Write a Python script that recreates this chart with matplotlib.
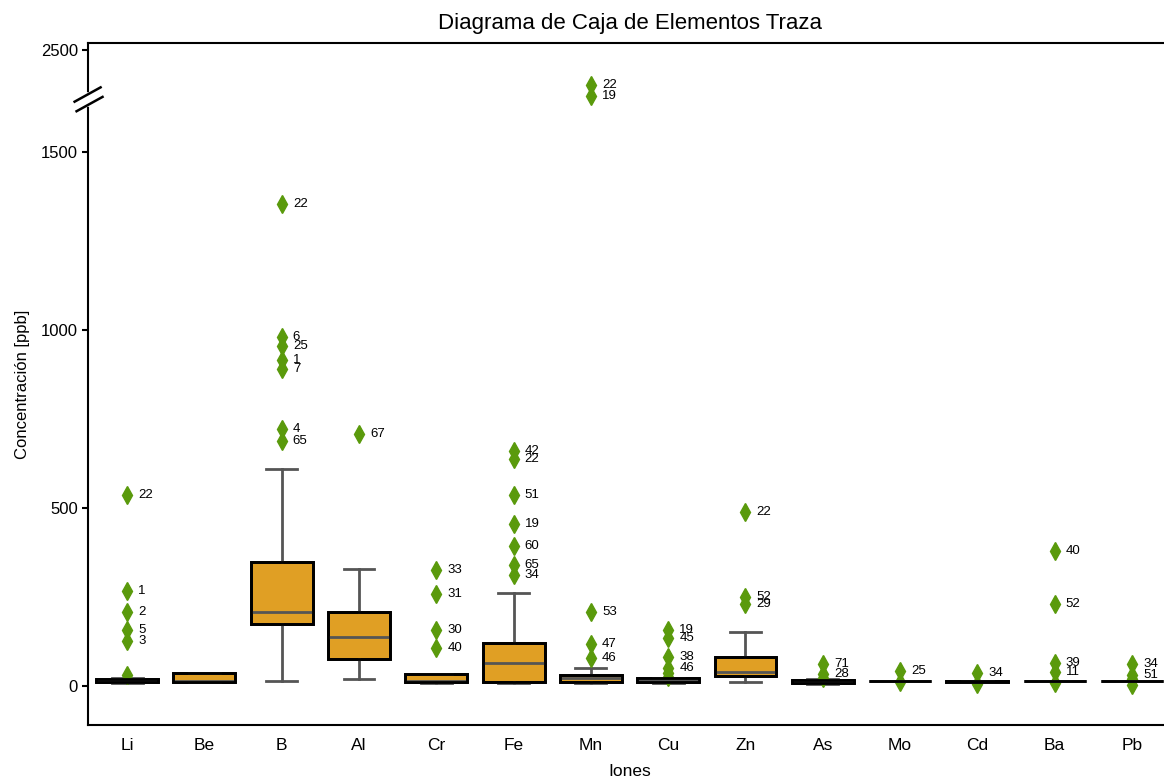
import numpy as np
import matplotlib.pyplot as plt
from matplotlib.patches import PathPatch

plt.rcParams['font.family'] = ['Liberation Sans', 'DejaVu Sans']

# Estadísticos de cada ion (ppb)
iones = ['Li', 'Be', 'B', 'Al', 'Cr', 'Fe', 'Mn', 'Cu', 'Zn', 'As', 'Mo', 'Cd', 'Ba', 'Pb']
q1 = [12, 12, 174, 75, 12, 12, 12, 12, 28, 8, 15, 10, 15, 15]
mediana = [16, 13, 207, 136, 14, 64, 22, 16, 40, 12, 15, 12, 15, 15]
q3 = [20, 36, 349, 208, 34, 120, 31, 22, 80, 16, 15, 14, 15, 15]
bigote_inf = [9, 12, 15, 19, 9, 9, 9, 9, 10, 5, 15, 10, 15, 15]
bigote_sup = [22, 36, 610, 328, 34, 260, 50, 22, 151, 19, 15, 14, 15, 15]

# Valores atípicos y número de muestra
atipicos = [
    [536, 267, 208, 157, 126, 31],
    [],
    [1354, 980, 955, 916, 890, 722, 688],
    [707],
    [326, 258, 157, 106],
    [661, 637, 535, 454, 393, 340, 312],
    [1920, 1740, 207, 118, 78],
    [157, 134, 80, 50, 36, 26],
    [487, 251, 229],
    [61, 33, 22],
    [42, 10],
    [36, 5],
    [379, 229, 65, 40, 8],
    [61, 31, 18, 3],
]
muestras = [
    ['22', '1', '2', '5', '3', ''],
    [],
    ['22', '6', '25', '1', '7', '4', '65'],
    ['67'],
    ['33', '31', '30', '40'],
    ['42', '22', '51', '19', '60', '65', '34'],
    ['22', '19', '53', '47', '46'],
    ['19', '45', '38', '46', '', ''],
    ['22', '52', '29'],
    ['71', '28', ''],
    ['25', ''],
    ['34', ''],
    ['40', '52', '39', '11', ''],
    ['34', '51', '', ''],
]

# Eje y comprimido por encima del corte
corte = 1640
factor = 0.171


def directa(v):
    v = np.asarray(v, dtype=float)
    return np.where(v <= corte, v, corte + (v - corte) * factor)


def inversa(v):
    v = np.asarray(v, dtype=float)
    return np.where(v <= corte, v, corte + (v - corte) / factor)


fig = plt.figure(figsize=(11.64, 7.81), dpi=100)
ax = fig.add_axes([0.0760, 0.0717, 0.9297, 0.8732])
ax.set_yscale('function', functions=(directa, inversa))

stats = []
for i in range(len(iones)):
    stats.append({'med': mediana[i], 'q1': q1[i], 'q3': q3[i],
                  'whislo': bigote_inf[i], 'whishi': bigote_sup[i],
                  'fliers': atipicos[i]})

gris = '#555555'
cajas = ax.bxp(stats, positions=range(len(iones)), widths=0.8, patch_artist=True,
               boxprops=dict(facecolor='#E09F24', edgecolor='black', linewidth=2),
               medianprops=dict(color=gris, linewidth=2),
               whiskerprops=dict(color=gris, linewidth=2),
               capprops=dict(color=gris, linewidth=2), capwidths=0.4,
               flierprops=dict(marker='d', markersize=9, markerfacecolor='#5A9A0C',
                               markeredgecolor='#5A9A0C'))

# borde negro de cada caja por encima de la mediana
for caja in cajas['boxes']:
    ax.add_patch(PathPatch(caja.get_path(), transform=caja.get_transform(),
                           facecolor='none', edgecolor='black', linewidth=2,
                           zorder=caja.get_zorder() + 0.5))

for i in range(len(iones)):
    for v, m in zip(atipicos[i], muestras[i]):
        if m:
            ax.annotate(m, (i, v), xytext=(8, 0), textcoords='offset points',
                        va='center', ha='left', fontsize=9.5)

ax.set_xlim(-0.5, len(iones) - 0.5)
ax.set_ylim(-110, 2610)
ax.set_yticks([0, 500, 1000, 1500, 2500])
ax.set_xticks(range(len(iones)))
ax.set_xticklabels(iones)
ax.tick_params(axis='y', labelsize=12, length=4, width=1.5)
ax.tick_params(axis='x', labelsize=12.5, length=0, pad=9)
for s in ax.spines.values():
    s.set_linewidth(1.5)

# Marca de corte en el eje
ax.plot([0, 0], [0.911, 0.924], transform=ax.transAxes, color='white',
        linewidth=4, clip_on=False, zorder=5)
ax.plot([-0.0128, 0.0112], [0.914, 0.935], transform=ax.transAxes, color='black',
        linewidth=1.8, clip_on=False, zorder=6)
ax.plot([-0.0110, 0.0130], [0.900, 0.921], transform=ax.transAxes, color='black',
        linewidth=1.8, clip_on=False, zorder=6)

ax.set_title('Diagrama de Caja de Elementos Traza', fontsize=16, pad=10)
ax.set_xlabel('Iones', fontsize=12.5, labelpad=8)
ax.set_ylabel('Concentración [ppb]', fontsize=12, labelpad=8)

fig.savefig('out.png', dpi=100)
